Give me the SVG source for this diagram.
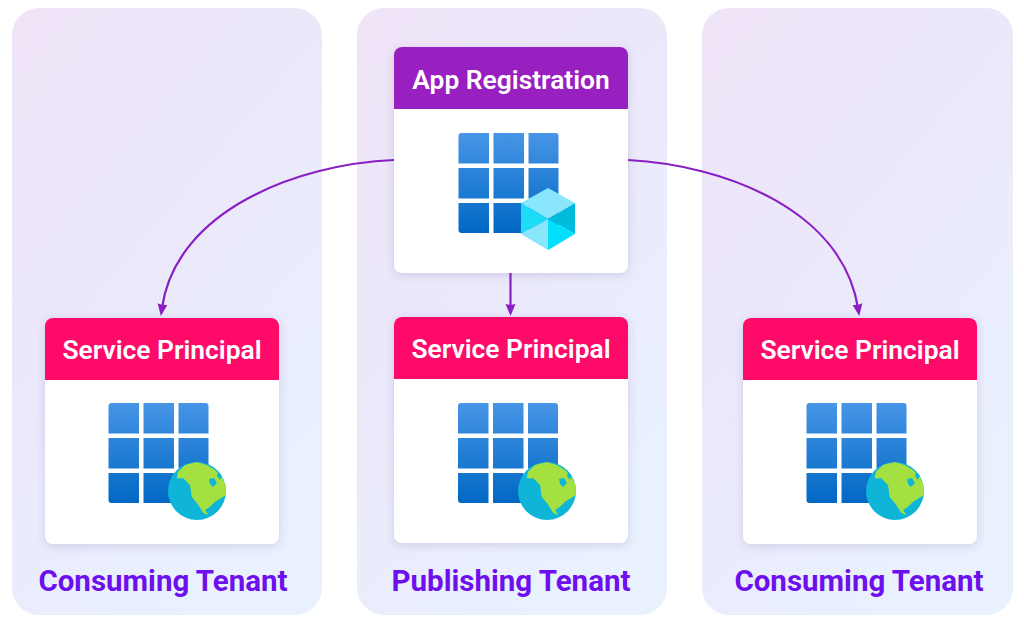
<svg xmlns="http://www.w3.org/2000/svg" width="1024" height="622" viewBox="0 0 1024 622">
<defs>
<linearGradient id="panel" x1="0" y1="0" x2="0.6" y2="1"><stop offset="0" stop-color="#f0e4f7"/><stop offset="0.45" stop-color="#ebe8fa"/><stop offset="1" stop-color="#e9f1fe"/></linearGradient>
<linearGradient id="tile" gradientUnits="userSpaceOnUse" x1="0" y1="0" x2="0" y2="100"><stop offset="0" stop-color="#4795e6"/><stop offset="1" stop-color="#0068c4"/></linearGradient>
<filter id="sh" x="-10%" y="-10%" width="120%" height="120%"><feDropShadow dx="0" dy="2" stdDeviation="4" flood-color="#5a4a90" flood-opacity="0.2"/></filter>
<clipPath id="globe-clip"><circle cx="29" cy="29" r="29"/></clipPath>
<marker id="arrow" markerUnits="userSpaceOnUse" markerWidth="13" markerHeight="11" refX="4" refY="5.500" orient="auto" viewBox="0 0 13 11"><path d="M0 0.500L12 5.500L0 10.500L1 5.500Z" fill="#8a1fc4"/></marker>
<g id="grid">
<path d="M0 3a3 3 0 0 1 3-3H30.500V30.500H0Z" fill="url(#tile)"/><rect x="35" width="30.500" height="30.500" fill="url(#tile)"/><path d="M70 0H97a3 3 0 0 1 3 3V30.500H70Z" fill="url(#tile)"/>
<rect y="35" width="30.500" height="30.500" fill="url(#tile)"/><rect x="35" y="35" width="30.500" height="30.500" fill="url(#tile)"/><rect x="70" y="35" width="30" height="30.500" fill="url(#tile)"/>
<path d="M0 70H30.500V100H3a3 3 0 0 1-3-3Z" fill="url(#tile)"/><rect x="35" y="70" width="30.500" height="30" fill="url(#tile)"/><path d="M70 70H100V97a3 3 0 0 1-3 3H70Z" fill="url(#tile)"/>
</g>
<g id="globe">
<circle cx="29" cy="29" r="29" fill="#0fb5d6"/>
<g clip-path="url(#globe-clip)">
<path d="M8.700 16.300L10 9.700L17 3L28.700 0L38.700 3L47 8L53.700 14.700L58 23L58 33L47 39.700L42 44.700L37 48L40.300 53L35.300 51L30.300 43L23.700 34.700L22 23L15.300 16.300Z" fill="#a4e040"/>
<path d="M41 17L46 16L49 21L45 25L42 22Z" fill="#0fb5d6"/>
<path d="M50 10L54 13L52 18L49 14Z" fill="#0fb5d6"/>
</g>
</g>
</defs>
<style>
.panel{fill:url(#panel)}
.card{fill:#fff;filter:url(#sh)}
.hd{font:600 26.4px Roboto,"Liberation Sans",sans-serif;fill:#fff;text-anchor:middle}
.tn{font:700 29.5px Roboto,"Liberation Sans",sans-serif;fill:#6e10ee;text-anchor:middle}
.conn{fill:none;stroke:#8a1fc4;stroke-width:2.200}
</style>
<rect width="1024" height="622" fill="#fff"/>
<g id="panels">
<rect class="panel" x="12" y="8" width="310" height="607" rx="27"/>
<rect class="panel" x="357" y="8" width="310" height="607" rx="27"/>
<rect class="panel" x="702" y="8" width="311" height="607" rx="27"/>
</g>
<g id="connectors">
<path class="conn" d="M394 160C298 164 176 210 162 308" marker-end="url(#arrow)"/>
<path class="conn" d="M628 160C725 165 842 210 858 308" marker-end="url(#arrow)"/>
<path class="conn" d="M510.500 273V308" marker-end="url(#arrow)"/>
</g>
<g id="app-registration">
<rect class="card" x="394" y="47" width="234" height="226" rx="8"/>
<path d="M394 109V55a8 8 0 0 1 8-8H620a8 8 0 0 1 8 8V109Z" fill="#981fc0"/>
<text class="hd" x="511" y="89">App Registration</text>
<use href="#grid" x="458.500" y="133"/>
<g id="cube">
<path d="M548 188L575 203L548 219L521 203Z" fill="#8ae6fb"/>
<path d="M521 203L548 219L521 234Z" fill="#1cdcf8"/>
<path d="M575 203V234L548 219Z" fill="#00bcdc"/>
<path d="M521 234L548 219V250Z" fill="#8ae6fb"/>
<path d="M548 219L575 234L548 250Z" fill="#00e0fc"/>
</g>
</g>
<g id="sp-left">
<rect class="card" x="45" y="318" width="234" height="226" rx="8"/>
<path d="M45 380V326a8 8 0 0 1 8-8H271a8 8 0 0 1 8 8V380Z" fill="#fe0b69"/>
<text class="hd" x="162" y="359">Service Principal</text>
<use href="#grid" x="108.500" y="403"/>
<use href="#globe" x="168" y="462"/>
</g>
<g id="sp-center">
<rect class="card" x="394" y="317" width="234" height="226" rx="8"/>
<path d="M394 379V325a8 8 0 0 1 8-8H620a8 8 0 0 1 8 8V379Z" fill="#fe0b69"/>
<text class="hd" x="511" y="358">Service Principal</text>
<use href="#grid" x="458" y="403"/>
<use href="#globe" x="518" y="462"/>
</g>
<g id="sp-right">
<rect class="card" x="743" y="318" width="234" height="226" rx="8"/>
<path d="M743 380V326a8 8 0 0 1 8-8H969a8 8 0 0 1 8 8V380Z" fill="#fe0b69"/>
<text class="hd" x="860" y="359">Service Principal</text>
<use href="#grid" x="806.500" y="403"/>
<use href="#globe" x="866" y="462"/>
</g>
<g id="labels">
<text class="tn" x="163" y="591">Consuming Tenant</text>
<text class="tn" x="511" y="591">Publishing Tenant</text>
<text class="tn" x="859" y="591">Consuming Tenant</text>
</g>
</svg>
